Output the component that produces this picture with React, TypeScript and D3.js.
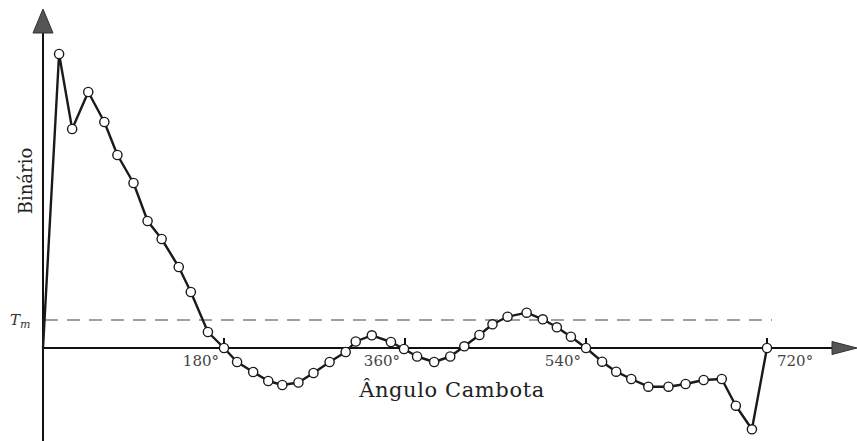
// torque vs crank angle, line with open markers
import { useEffect, useRef } from 'react';
import * as d3 from 'd3';

// crank angle (degrees)
const angles = [0, 16, 29, 45, 61, 74, 90, 104, 118, 135, 147, 164, 180,
  193, 209, 224, 238, 254, 269, 285, 301, 311, 327, 346, 359,
  372, 389, 405, 419, 434, 447, 462, 481, 497, 511, 525, 540,
  556, 570, 585, 602, 622, 639, 657, 675, 689, 705, 720];
// torque (arbitrary units)
const torque = [0, 294, 219, 256, 226, 193, 165, 127, 109, 81, 56, 16, 0,
  -14, -24, -33, -37, -34.5, -25, -14, -4, 6.5, 12.7, 6, -1,
  -8.5, -14, -8.5, 1.7, 13, 23.7, 31.3, 35.3, 28.7, 20.7, 11.3, 0,
  -13.7, -23.7, -31, -38.7, -38.7, -36, -32, -31, -57.7, -81.3, 0];
const tickValues = [180, 360, 540, 720];
const tickLabels = ['180°', '360°', '540°', '720°'];
const meanTorque = 28;

const W = 857;
const H = 441;

const useD3 = (renderFn: (svg: any) => void, deps: any[]) => {
  const ref = useRef<SVGSVGElement>(null);
  useEffect(() => {
    const svg = d3.select(ref.current);
    svg.selectAll('*').remove();
    renderFn(svg);
  }, deps);
  return ref;
};

function TorqueChart() {
  const ref = useD3((svg) => {
    const x = d3.scaleLinear().domain([0, 720]).range([43, 767]);
    const y = d3.scaleLinear().domain([-93, 338]).range([H, 10]);
    const pts = angles.map((a, i) => ({ a, t: torque[i] }));
    const serif = "'DejaVu Serif', 'Liberation Serif', serif";

    // mean torque dashed line
    svg.append('line')
      .attr('x1', x(2)).attr('x2', x(725))
      .attr('y1', y(meanTorque)).attr('y2', y(meanTorque))
      .attr('stroke', '#808080').attr('stroke-width', 1.6)
      .attr('stroke-dasharray', '13,9');

    // axes
    svg.append('line')
      .attr('x1', x(0)).attr('x2', 836)
      .attr('y1', y(0)).attr('y2', y(0))
      .attr('stroke', '#111').attr('stroke-width', 1.8);
    svg.append('path')
      .attr('d', `M832,${y(0) - 6.5}L857,${y(0)}L832,${y(0) + 6.5}Z`)
      .attr('fill', '#555').attr('stroke', '#333').attr('stroke-width', 1);
    svg.append('line')
      .attr('x1', x(0)).attr('x2', x(0))
      .attr('y1', 30).attr('y2', H)
      .attr('stroke', '#111').attr('stroke-width', 2);
    svg.append('path')
      .attr('d', `M${x(0) - 10},33L${x(0)},9L${x(0) + 10},33Z`)
      .attr('fill', '#555').attr('stroke', '#333').attr('stroke-width', 1);

    // ticks
    svg.selectAll('.tick').data(tickValues).join('line')
      .attr('class', 'tick')
      .attr('x1', (d) => x(d)).attr('x2', (d) => x(d))
      .attr('y1', y(0) - 10).attr('y2', y(0))
      .attr('stroke', '#111').attr('stroke-width', 2);
    svg.selectAll('.tlab').data(tickValues).join('text')
      .attr('class', 'tlab')
      .attr('x', (d) => (d === 720 ? x(d) + 10 : x(d) - 5))
      .attr('y', y(0) + 18)
      .attr('text-anchor', (d) => (d === 720 ? 'start' : 'end'))
      .attr('font-family', serif).attr('font-size', 15)
      .attr('fill', '#444')
      .text((d, i) => tickLabels[i]);

    // torque curve
    const line = d3.line<any>().x((d) => x(d.a)).y((d) => y(d.t));
    svg.append('path').datum(pts)
      .attr('d', line)
      .attr('fill', 'none').attr('stroke', '#1a1a1a')
      .attr('stroke-width', 2.4).attr('stroke-linejoin', 'round');
    svg.selectAll('.pt').data(pts.slice(1)).join('circle')
      .attr('class', 'pt')
      .attr('cx', (d) => x(d.a)).attr('cy', (d) => y(d.t))
      .attr('r', 4.6)
      .attr('fill', '#fff').attr('stroke', '#1a1a1a').attr('stroke-width', 1.4);

    // labels
    svg.append('text')
      .attr('x', 452).attr('y', 397)
      .attr('text-anchor', 'middle')
      .attr('font-family', serif).attr('font-size', 21)
      .attr('letter-spacing', 0.6)
      .attr('fill', '#222')
      .text('Ângulo Cambota');
    svg.append('text')
      .attr('transform', 'translate(32,181) rotate(-90)')
      .attr('text-anchor', 'middle')
      .attr('font-family', serif).attr('font-size', 18)
      .attr('fill', '#222')
      .text('Binário');
    const tm = svg.append('text')
      .attr('x', 10).attr('y', 325)
      .attr('font-family', serif).attr('font-style', 'italic')
      .attr('font-size', 15).attr('fill', '#333');
    tm.append('tspan').text('T');
    tm.append('tspan').attr('dy', 3).attr('font-size', 11).text('m');
  }, []);

  return (
    <svg ref={ref} width={W} height={H}
      style={{ position: 'absolute', left: 0, top: 0, background: '#fff' }} />
  );
}

export default function App() {
  return <TorqueChart />;
}
